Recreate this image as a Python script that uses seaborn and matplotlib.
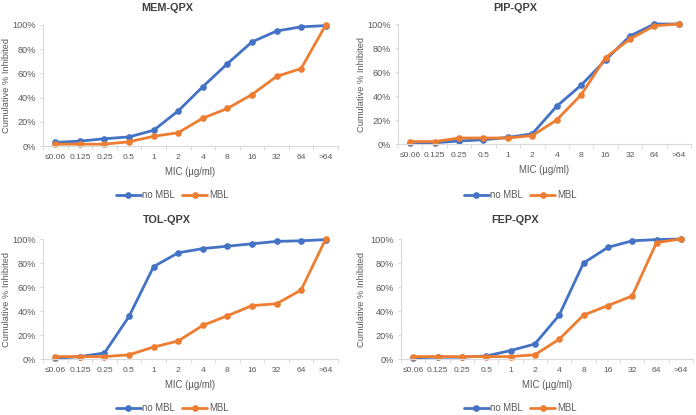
import matplotlib
matplotlib.use("Agg")
import matplotlib.pyplot as plt
import seaborn as sns
import pandas as pd
from matplotlib.ticker import PercentFormatter

sns.set_theme(style="white")
plt.rcParams['font.family'] = ['Liberation Sans', 'DejaVu Sans']

mic_labels = ["≤0.06", "0.125", "0.25", "0.5", "1", "2", "4", "8", "16", "32", "64", ">64"]
series_names = ["no MBL", "MBL"]

mem_no_mbl = [3, 4, 6, 7.5, 13, 29, 49, 68, 86, 95, 98.5, 99.5]
mem_mbl = [1.5, 1.5, 1.5, 3.5, 8, 11, 23, 31, 42.5, 57.5, 64, 100]

pip_no_mbl = [1, 1, 2.5, 3.5, 5.5, 8.5, 31.5, 49, 70, 90, 100, 100]
pip_mbl = [2, 2, 5, 5, 5, 7, 20, 41, 72, 87.5, 98.5, 100]

tol_no_mbl = [0.5, 2, 5, 35.5, 77, 88.5, 92, 94, 96, 98, 98.5, 99.5]
tol_mbl = [2, 2, 2, 3.5, 10, 15, 28, 36, 44.5, 46, 57.5, 100]

fep_no_mbl = [1, 1.5, 1.5, 2.5, 7, 12.5, 36.5, 80, 93, 98.5, 99.5, 100]
fep_mbl = [2, 2, 2, 2, 2, 3.5, 16.5, 36.5, 44.5, 52.5, 97, 100]

panels = [
    ("MEM-QPX", mem_no_mbl, mem_mbl),
    ("PIP-QPX", pip_no_mbl, pip_mbl),
    ("TOL-QPX", tol_no_mbl, tol_mbl),
    ("FEP-QPX", fep_no_mbl, fep_mbl),
]

W, H = 696, 415
fig = plt.figure(figsize=(W / 100, H / 100), dpi=100)

# axes boxes in pixels: (left, right, top, bottom, chart x offset, ylabel x, title y, legend y)
boxes = [
    (43, 338, 25, 146, 0, 7, 8, 195),
    (398, 691, 24, 144, 348, 361, 8, 195),
    (43, 338, 239, 359, 0, 7, 220, 408),
    (401, 693, 239, 359, 348, 362, 220, 408),
]

palette = {"no MBL": "#4472C4", "MBL": "#ED7D31"}
gray = "#595959"
axcol = "#D9D9D9"

for (title, no_mbl, mbl), (l, r, t, b, ox, ylx, ty, ly) in zip(panels, boxes):
    ax = fig.add_axes([l / W, 1 - b / H, (r - l) / W, (b - t) / H])
    df = pd.DataFrame({
        "x": list(range(len(mic_labels))) * 2,
        "y": no_mbl + mbl,
        "series": [series_names[0]] * len(mic_labels) + [series_names[1]] * len(mic_labels),
    })
    sns.lineplot(data=df, x="x", y="y", hue="series", palette=palette, marker="o",
                 markersize=4.8, markeredgewidth=0, linewidth=2.0, ax=ax, legend=False)
    ax.set_xlim(-0.5, len(mic_labels) - 0.5)
    ax.set_ylim(0, 100)
    ax.set_xticks(range(len(mic_labels)))
    ax.set_xticklabels(mic_labels)
    ax.set_xticks([i + 0.5 for i in range(-1, len(mic_labels))], minor=True)
    ax.tick_params(axis="x", which="major", length=0, labelsize=6.1, colors=gray, pad=6)
    ax.tick_params(axis="x", which="minor", length=3, width=0.7, color=axcol, direction="out", bottom=True)
    ax.set_yticks([0, 20, 40, 60, 80, 100])
    ax.yaxis.set_major_formatter(PercentFormatter(decimals=0))
    ax.tick_params(axis="y", length=2, width=0.7, color=axcol, labelsize=6.6, colors=gray, pad=3, left=True)
    for side in ["top", "right"]:
        ax.spines[side].set_visible(False)
    for side in ["left", "bottom"]:
        ax.spines[side].set_color(axcol)
        ax.spines[side].set_linewidth(0.8)
    ax.set_xlabel("MIC (µg/ml)", fontsize=6.9, color=gray, labelpad=4)
    ax.set_ylabel("Cumulative % Inhibited", fontsize=6.7, color=gray)
    ax.yaxis.set_label_coords((ylx - l) / (r - l), 0.5)
    ax.yaxis.label.set_va("center")
    ax.grid(False)
    for c in ax.lines:
        c.set_clip_on(False)
    fig.text((ox + 167) / W, 1 - ty / H, title, ha="center", va="center",
             fontsize=7.8, fontweight="bold", color="#404040")
    handles = [plt.Line2D([], [], color=palette[s], marker="o", markersize=4.8,
                          markeredgewidth=0, linewidth=2.0) for s in series_names]
    fig.legend(handles, series_names, loc="center", ncol=2,
               bbox_to_anchor=((ox + 172) / W, 1 - ly / H),
               frameon=False, fontsize=6.9, handlelength=2.6, handletextpad=0.15,
               columnspacing=0.8, labelcolor=gray)

fig.savefig("out.png", dpi=100, facecolor="white")
